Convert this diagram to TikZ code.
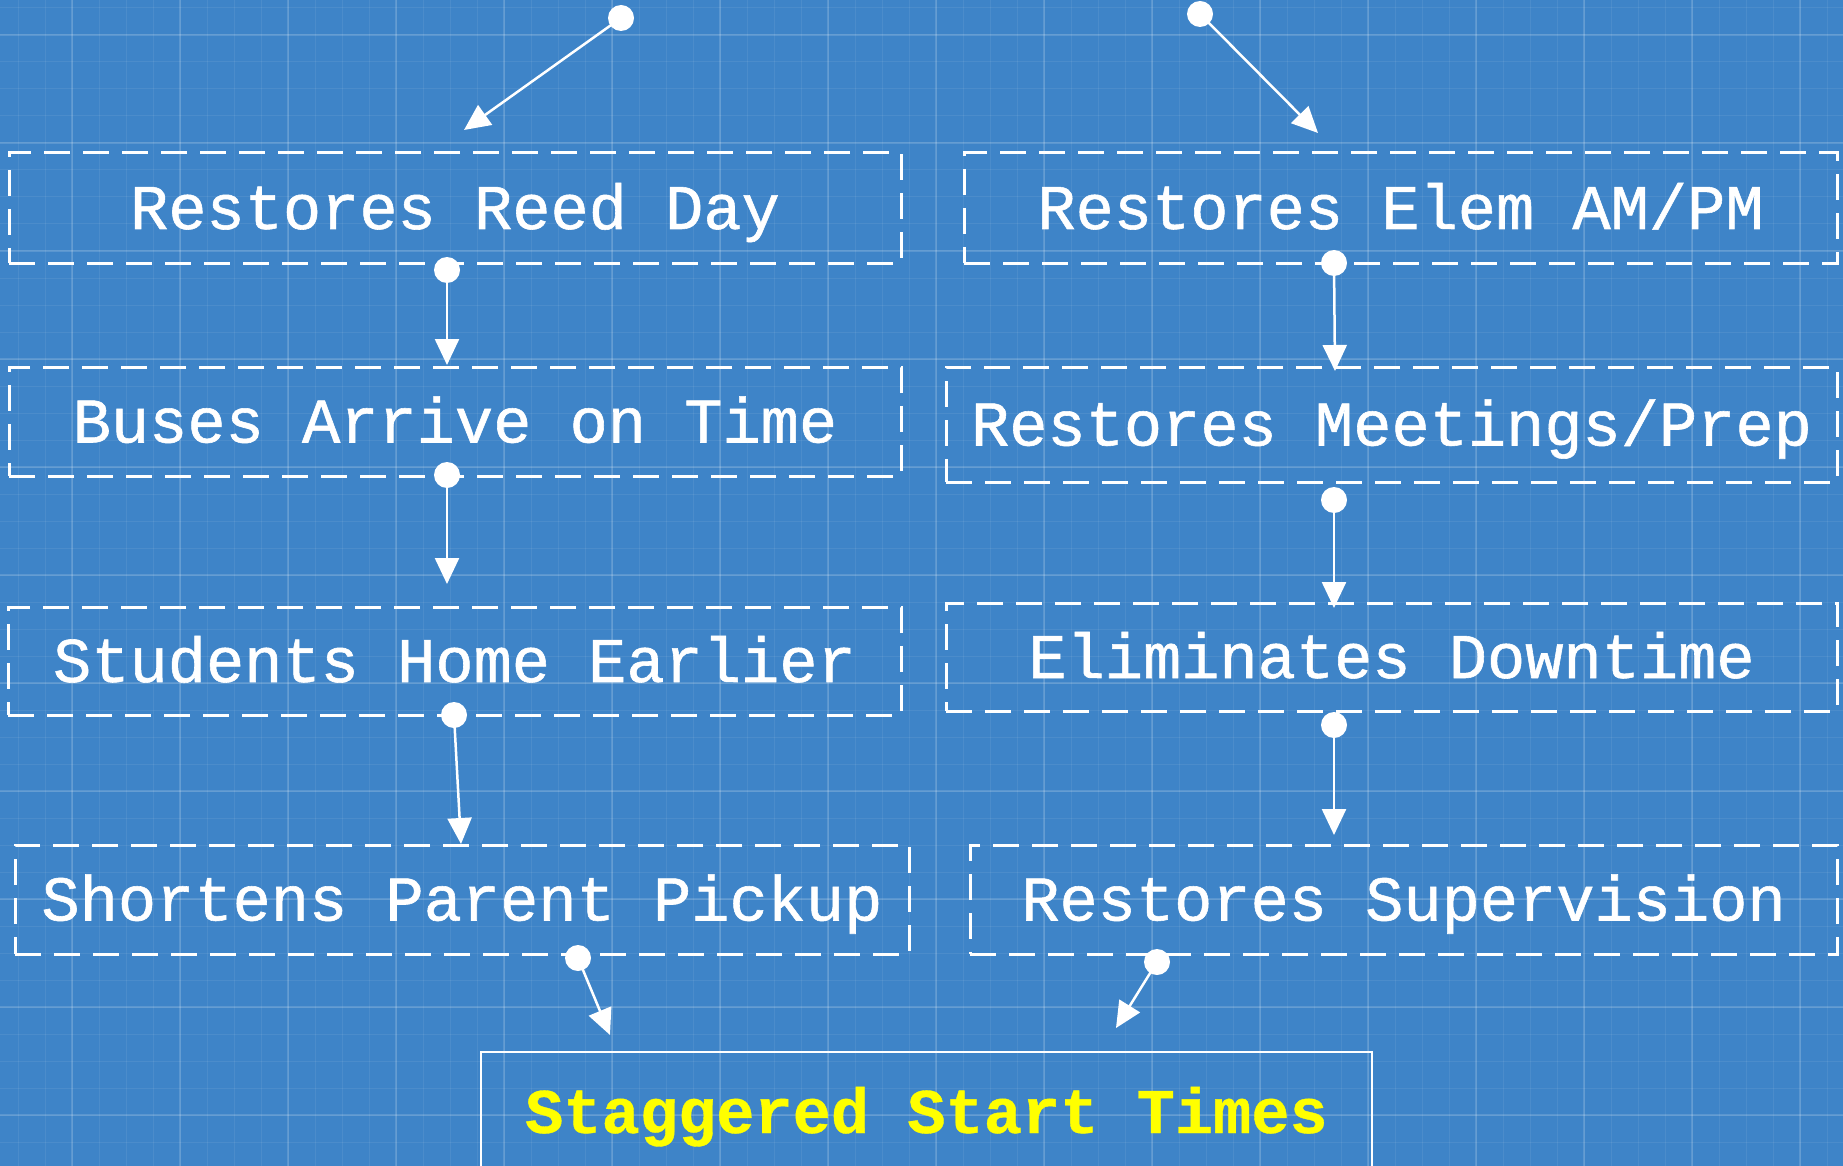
\documentclass[tikz,border=0pt]{standalone}
\usepackage{fontspec}
\setmonofont[FakeBold=0.9,BoldFont={Liberation Mono Bold},BoldFeatures={FakeBold=0.6}]{Liberation Mono}
\usetikzlibrary{arrows.meta}
\definecolor{bpblue}{RGB}{62,132,200}
\definecolor{bpyellow}{RGB}{255,255,0}
\begin{document}
\begin{tikzpicture}[x=1pt,y=-1pt,
  box/.style={draw=white, line width=3pt, dash pattern=on 26pt off 13pt, inner sep=0pt, text=white,
    font=\ttfamily\fontsize{63.7}{70}\selectfont, text height=44pt, text depth=2pt},
  mainbox/.style={draw=white, line width=2.5pt, inner sep=0pt, text=bpyellow,
    font=\ttfamily\bfseries\fontsize{63.7}{70}\selectfont, text height=44pt, text depth=2pt},
  dot/.style={circle, fill=white, inner sep=0pt, minimum size=26pt},
  conn/.style={draw=white, line width=2.5pt, -{Triangle[length=26pt,width=24pt]}},
  minorgrid/.style={white, opacity=0.07, line width=1pt},
  majorgrid/.style={white, opacity=0.15, line width=1.6pt}]
\useasboundingbox (0,0) rectangle (1843,1166);
\clip (0,0) rectangle (1843,1166);
\fill[bpblue] (0,0) rectangle (1843,1166);
% grid
\foreach \x in {18,45,...,1843} \draw[minorgrid] (\x,0) -- (\x,1166);
\foreach \y in {8,35,...,1166} \draw[minorgrid] (0,\y) -- (1843,\y);
\foreach \x in {72,180,...,1843} \draw[majorgrid] (\x,0) -- (\x,1166);
\foreach \y in {35,143,...,1166} \draw[majorgrid] (0,\y) -- (1843,\y);
% boxes
\node[box, minimum width=892pt, minimum height=110pt] (b1) at (455,208) {Restores Reed Day};
\node[box, minimum width=873pt, minimum height=110pt] (b2) at (1400.5,208) {Restores Elem AM/PM};
\node[box, minimum width=892pt, minimum height=109pt] (b3) at (455,421.5) {Buses Arrive on Time};
\node[box, minimum width=891pt, minimum height=115pt] (b4) at (1391.5,424.5) {Restores Meetings/Prep};
\node[box, minimum width=893pt, minimum height=108pt] (b5) at (454.5,661) {Students Home Earlier};
\node[box, minimum width=891pt, minimum height=108pt] (b6) at (1391.5,657) {Eliminates Downtime};
\node[box, minimum width=894pt, minimum height=109pt] (b7) at (462,899.5) {Shortens Parent Pickup};
\node[box, minimum width=867pt, minimum height=109pt] (b8) at (1403.5,899.5) {Restores Supervision};
\node[mainbox, minimum width=891pt, minimum height=120pt] (b9) at (926.5,1112) {Staggered Start Times};
% dots
\node[dot] (d1) at (621,18) {};
\node[dot] (d2) at (1200,14) {};
\node[dot] (d3) at (447,270) {};
\node[dot] (d4) at (1334,263) {};
\node[dot] (d5) at (447,475) {};
\node[dot] (d6) at (1334,500) {};
\node[dot] (d7) at (454,715) {};
\node[dot] (d8) at (1334,725) {};
\node[dot] (d9) at (578,958) {};
\node[dot] (d10) at (1157,962) {};
% tips
\coordinate (t1) at (464,130);
\coordinate (t2) at (1318,133);
\coordinate (t3) at (447,365);
\coordinate (t4) at (1335,371);
\coordinate (t5) at (447,584);
\coordinate (t6) at (1334,608);
\coordinate (t7) at (461,844);
\coordinate (t8) at (1334,835);
\coordinate (t9) at (610,1035);
\coordinate (t10) at (1116,1028);
% connectors
\foreach \i in {1,...,10} \draw[conn] (d\i.center) -- (t\i);
\end{tikzpicture}
\end{document}
